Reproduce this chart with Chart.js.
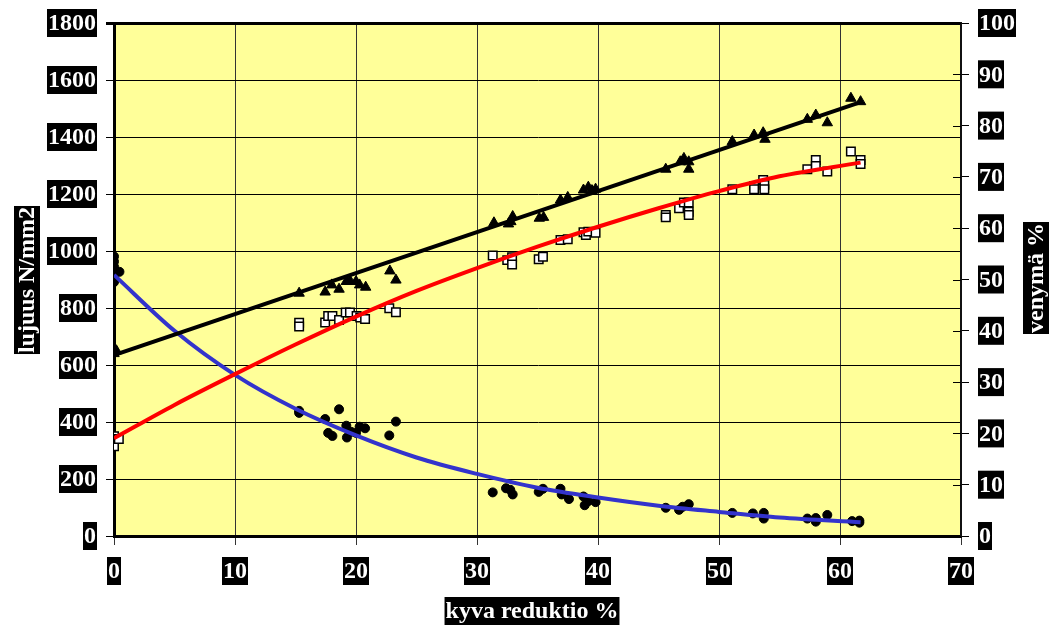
<!DOCTYPE html>
<html>
<head>
<meta charset="utf-8">
<script src="https://cdn.jsdelivr.net/npm/chart.js@4.4.1/dist/chart.umd.min.js"></script>
<style>
  html, body { margin: 0; padding: 0; background: #fff; }
  canvas { display: block; }
</style>
</head>
<body>
<canvas id="chart" width="1054" height="628"></canvas>
<script>
// murtolujuus (triangles), N/mm2
const triX = [0, 0.2, 15.3, 17.45, 18.0, 18.6, 19.2, 19.5, 20.0, 20.3, 20.8, 22.8, 23.3,
  31.4, 32.6, 32.8, 32.95, 35.15, 35.5, 36.9, 37.5, 38.8, 39.2, 39.5, 39.8,
  45.6, 46.8, 47.1, 47.5, 47.5, 51.1, 52.9, 53.65, 53.8, 57.3, 58.0, 58.95, 60.9, 61.7];
const triY = [640, 650, 852, 856, 881, 866, 893, 896, 893, 881, 873, 930, 898,
  1099, 1095, 1103, 1121, 1115, 1118, 1179, 1188, 1214, 1224, 1212, 1217,
  1287, 1313, 1325, 1313, 1287, 1384, 1407, 1415, 1392, 1462, 1477, 1450, 1536, 1524];

// myötölujuus (open squares), N/mm2
const sqX = [0, 0, 0, 0.4, 15.3, 15.3, 17.45, 17.7, 18.05, 18.6, 19.15, 19.5, 20.05, 20.35, 20.75, 22.75, 23.3,
  31.3, 32.5, 32.9, 32.9, 35.1, 35.45, 36.9, 37.5, 38.8, 39.0, 39.2, 39.8,
  45.6, 45.6, 46.7, 47.1, 47.5, 47.5, 47.5, 51.1, 52.9, 52.9, 53.65, 53.75, 53.75,
  57.3, 58.0, 58.0, 58.95, 60.9, 61.7, 61.7];
const sqY = [350, 330, 315, 340, 748, 735, 749, 772, 772, 758, 784, 784, 772, 767, 761, 799, 785,
  984, 968, 978, 953, 971, 980, 1039, 1041, 1066, 1056, 1068, 1064,
  1126, 1118, 1150, 1170, 1170, 1138, 1126, 1217, 1228, 1217, 1249, 1232, 1217,
  1287, 1319, 1298, 1279, 1349, 1319, 1305];

// venymä (circles), %
const circX = [0, 0, 0, 0, 0, 0, 0.45, 15.3, 15.3, 17.45, 17.7, 18.05, 18.6, 19.2, 19.25, 19.6, 20.0, 20.3, 20.75, 22.75, 23.3,
  31.3, 32.4, 32.75, 32.95, 35.1, 35.45, 36.9, 37.0, 37.6, 38.8, 38.9, 39.2, 39.8,
  45.6, 46.7, 47.0, 47.5, 51.1, 52.8, 53.7, 53.7, 57.3, 58.0, 58.0, 58.95, 61.0, 61.6, 61.6];
const circY = [54.5, 53.5, 52.5, 51.5, 50.5, 49.5, 51.5, 24.4, 24.0, 22.8, 20.1, 19.5, 24.7, 21.5, 19.2, 20.3, 20.1, 21.3, 21.0, 19.6, 22.3,
  8.5, 9.3, 9.0, 8.1, 8.6, 9.2, 9.2, 8.1, 7.2, 7.7, 6.0, 6.8, 6.6,
  5.5, 5.1, 5.7, 6.2, 4.5, 4.4, 4.5, 3.4, 3.4, 2.8, 3.5, 4.1, 2.9, 2.6, 3.0];

// trend lines
const blackTrendX = [0, 61.7];
const blackTrendY = [635, 1522];
const curveX = [0, 5, 10, 15, 20, 25, 30, 35, 40, 45, 50, 55, 61.7];
const redTrendY = [343, 460, 568, 672, 770, 860, 940, 1015, 1085, 1150, 1210, 1262, 1310];
const blueTrendY = [50.9, 40.0, 31.4, 24.8, 19.6, 15.3, 12.1, 9.4, 7.5, 5.9, 4.7, 3.6, 2.7];

const xTitle = 'kyva reduktio %';
const yTitle = 'lujuus N/mm2';
const y2Title = 'venymä %';

const pts = (xs, ys) => xs.map((x, i) => ({ x: x, y: ys[i] }));
const FONT = 'bold 24px "Liberation Serif", "Times New Roman", serif';

function boxText(ctx, text, x, y, align) {
  ctx.font = FONT;
  const w = ctx.measureText(text).width;
  let left = x - w / 2;
  if (align === 'right') left = x - w;
  if (align === 'left') left = x;
  ctx.fillStyle = '#000';
  ctx.fillRect(left - 1, y - 14, w + 2, 28);
  ctx.fillStyle = '#fff';
  ctx.textAlign = 'left';
  ctx.textBaseline = 'middle';
  ctx.fillText(text, left, y + 1);
}

function boxTextRot(ctx, text, cx, cy) {
  ctx.save();
  ctx.translate(cx, cy);
  ctx.rotate(-Math.PI / 2);
  ctx.font = FONT;
  const w = ctx.measureText(text).width;
  ctx.fillStyle = '#000';
  ctx.fillRect(-w / 2 - 1, -13, w + 2, 26);
  ctx.fillStyle = '#fff';
  ctx.textAlign = 'center';
  ctx.textBaseline = 'middle';
  ctx.fillText(text, 0, 1);
  ctx.restore();
}

const labelPlugin = {
  id: 'labelPlugin',
  beforeDraw(chart) {
    const ctx = chart.ctx;
    const a = chart.chartArea;
    ctx.save();
    ctx.fillStyle = '#fff';
    ctx.fillRect(0, 0, chart.width, chart.height);
    ctx.fillStyle = '#FFFF99';
    ctx.fillRect(a.left, a.top, a.right - a.left, a.bottom - a.top);
    ctx.restore();
  },
  afterDraw(chart) {
    const ctx = chart.ctx;
    const sx = chart.scales.x, sy = chart.scales.y, sy2 = chart.scales.y2;
    ctx.save();
    // right axis ticks cross the axis line
    ctx.strokeStyle = '#000';
    ctx.lineWidth = 1;
    sy2.ticks.forEach((t, i) => {
      const py = Math.round(sy2.getPixelForTick(i)) + 0.5;
      ctx.beginPath();
      ctx.moveTo(953, py);
      ctx.lineTo(961, py);
      ctx.stroke();
    });
    sy.ticks.forEach((t, i) => boxText(ctx, String(t.value), 96, sy.getPixelForTick(i), 'right'));
    sy2.ticks.forEach((t, i) => boxText(ctx, String(t.value), 979, sy2.getPixelForTick(i), 'left'));
    sx.ticks.forEach((t, i) => boxText(ctx, String(t.value), sx.getPixelForTick(i), 571, 'center'));
    boxText(ctx, xTitle, 532, 611, 'center');
    boxTextRot(ctx, yTitle, 27, 280);
    boxTextRot(ctx, y2Title, 1036, 278);
    ctx.restore();
  }
};

new Chart(document.getElementById('chart'), {
  type: 'scatter',
  data: {
    datasets: [
      { label: 'trend black', data: pts(blackTrendX, blackTrendY), showLine: true, pointRadius: 0,
        borderColor: '#000', borderWidth: 4, yAxisID: 'y', order: 0 },
      { label: 'trend red', data: pts(curveX, redTrendY), showLine: true, pointRadius: 0,
        borderColor: '#FF0000', borderWidth: 4, cubicInterpolationMode: 'monotone', yAxisID: 'y', order: 0 },
      { label: 'trend blue', data: pts(curveX, blueTrendY), showLine: true, pointRadius: 0,
        borderColor: '#3333CC', borderWidth: 4, cubicInterpolationMode: 'monotone', yAxisID: 'y2', order: 0 },
      { label: 'murtolujuus', data: pts(triX, triY), pointStyle: 'triangle', pointRadius: 6,
        backgroundColor: '#000', borderColor: '#000', borderWidth: 1, yAxisID: 'y', order: 1 },
      { label: 'myötölujuus', data: pts(sqX, sqY), pointStyle: 'rect', pointRadius: 6,
        backgroundColor: '#fff', borderColor: '#000', borderWidth: 1.5, yAxisID: 'y', order: 1 },
      { label: 'venymä', data: pts(circX, circY), pointStyle: 'circle', pointRadius: 4.5,
        backgroundColor: '#000', borderColor: '#000', borderWidth: 1, yAxisID: 'y2', order: 1 }
    ]
  },
  options: {
    responsive: false,
    animation: false,
    events: [],
    layout: { padding: { top: 23, left: 0, right: 0, bottom: 0 } },
    plugins: { legend: { display: false }, tooltip: { enabled: false } },
    scales: {
      x: {
        type: 'linear', min: 0, max: 70,
        ticks: { stepSize: 10, color: 'rgba(0,0,0,0)', font: { size: 24 } },
        grid: { color: '#333', lineWidth: 1, tickLength: 9, drawTicks: true },
        border: { display: true, color: '#000', width: 3 },
        afterFit(s) { s.height = 92; }
      },
      y: {
        type: 'linear', position: 'left', min: 0, max: 1800,
        ticks: { stepSize: 200, color: 'rgba(0,0,0,0)', font: { size: 24 } },
        grid: { color: '#000', lineWidth: c => (c.tick && c.tick.value === 1800 ? 3 : 1), tickLength: 8 },
        border: { display: true, color: '#000', width: 3 },
        afterFit(s) { s.width = 114; }
      },
      y2: {
        type: 'linear', position: 'right', min: 0, max: 100,
        ticks: { stepSize: 10, color: 'rgba(0,0,0,0)', font: { size: 24 } },
        grid: { drawOnChartArea: false, color: '#000', tickLength: 8 },
        border: { display: true, color: '#111', width: 2 },
        afterFit(s) { s.width = 93; }
      }
    }
  },
  plugins: [labelPlugin]
});
</script>
</body>
</html>
